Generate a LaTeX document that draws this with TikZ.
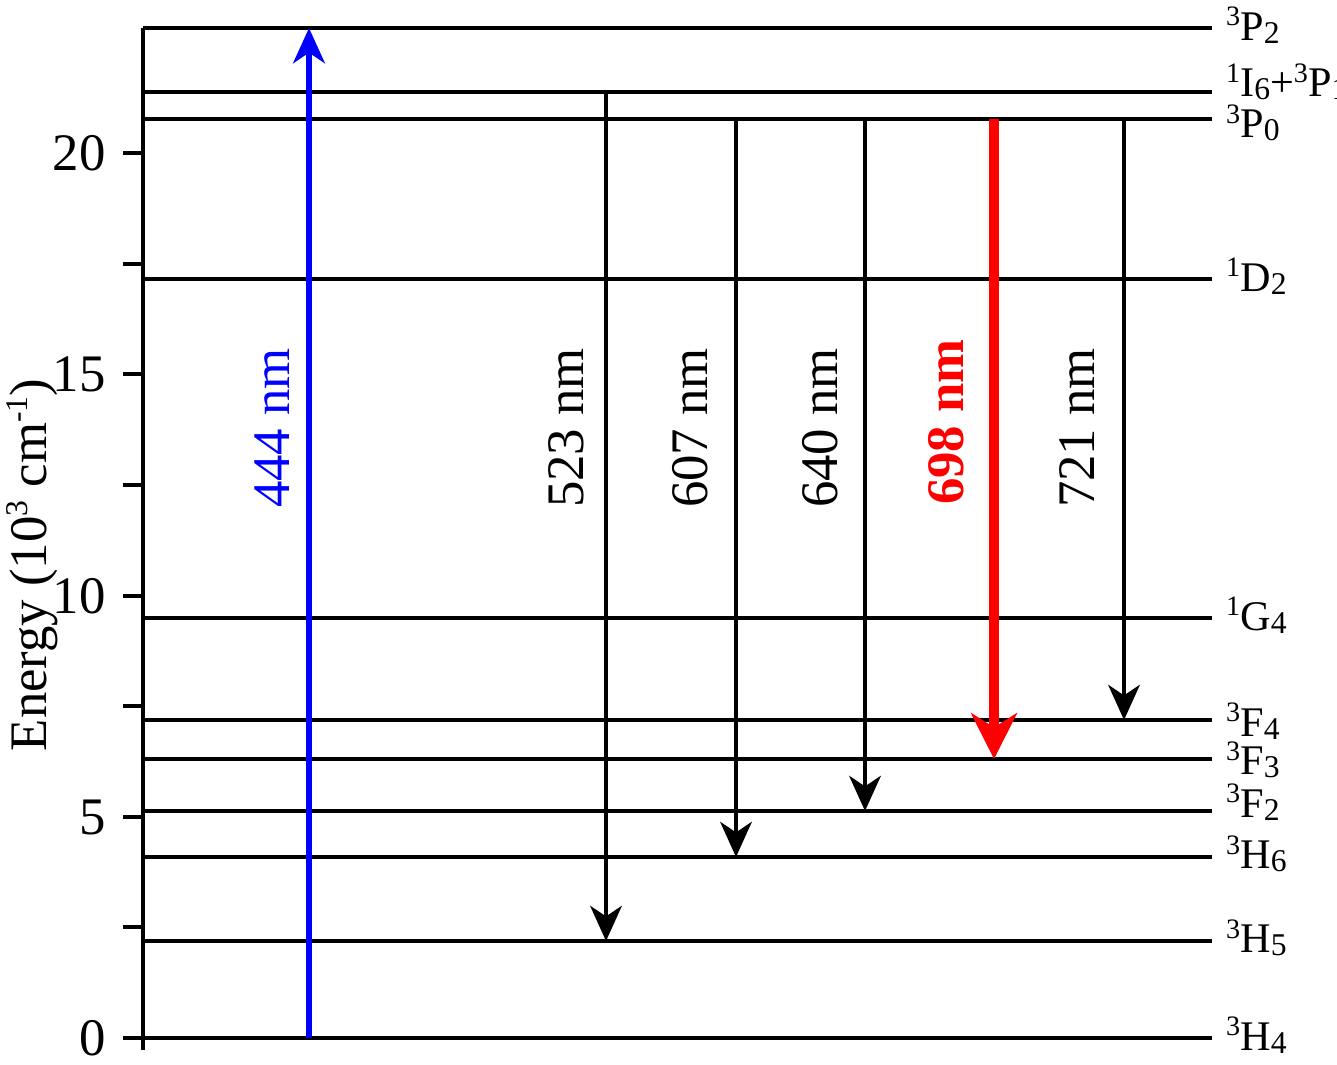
\documentclass[tikz,border=0pt]{standalone}
\usepackage{fontspec}
\setmainfont{Liberation Serif}
\usetikzlibrary{arrows.meta}
\newcommand{\lvl}[3]{\raisebox{0.75ex}{\fontsize{8}{8}\selectfont #1}#2\raisebox{-0.15ex}{\fontsize{9}{9}\selectfont #3}}
\begin{document}
\begin{tikzpicture}[x=0.01cm,y=-0.01cm,
  lev/.style={line width=1.2pt},
  tr/.style={line width=1.1pt,-{Stealth[length=10pt,width=9pt,inset=3pt]}},
  lab/.style={font=\fontsize{12}{14}\selectfont,anchor=west,inner sep=1pt},
  wl/.style={rotate=90,font=\fontsize{15}{16}\selectfont},
  tk/.style={font=\fontsize{15}{16}\selectfont,anchor=east}]
\useasboundingbox (0,0) rectangle (1337,1064);
\draw[lev] (143,28) -- (143,1050);
\foreach \y/\t in {1038/0,817/5,596/10,374/15,153/20}{
  \draw[lev] (123,\y) -- (143,\y);
  \node[tk] (t\t) at (118,\y) {\t};}
\foreach \y in {927,706,485,264}{\draw[lev] (123,\y) -- (143,\y);}
\node[rotate=90,font=\fontsize{15}{16}\selectfont] (ylab) at (32,565) {Energy (10\raisebox{0.8ex}{\fontsize{9}{9}\selectfont 3} cm\raisebox{0.8ex}{\fontsize{9}{9}\selectfont -1})};
\foreach \n/\y/\ly/\t in {a/28/28/{\lvl{3}{P}{2}},b/92/85/{\lvl{1}{I}{6}+\lvl{3}{P}{1}},c/119/126/{\lvl{3}{P}{0}},d/279/279/{\lvl{1}{D}{2}},e/618/618/{\lvl{1}{G}{4}},f/720/724/{\lvl{3}{F}{4}},g/759/763/{\lvl{3}{F}{3}},h/811/805/{\lvl{3}{F}{2}},i/857/857/{\lvl{3}{H}{6}},j/941/941/{\lvl{3}{H}{5}},k/1038/1038/{\lvl{3}{H}{4}}}{
  \coordinate (L\n) at (143,\y);
  \coordinate (R\n) at (1212,\y);
  \draw[lev] (L\n) -- (R\n);
  \node[lab] (n\n) at (1222,\ly-3) {\t};}
\coordinate (b0) at (309,1038); \coordinate (b1) at (309,28);
\draw[tr,blue,line width=1.6pt] (b0) -- (b1);
\node[wl,blue] (w444) at (272,428) {444 nm};
\coordinate (s1) at (606,92); \coordinate (e1) at (606,941);
\draw[tr] (s1) -- (e1); \node[wl] (w523) at (566,428) {523 nm};
\coordinate (s2) at (736,119); \coordinate (e2) at (736,857);
\draw[tr] (s2) -- (e2); \node[wl] (w607) at (690,428) {607 nm};
\coordinate (s3) at (865,119); \coordinate (e3) at (865,811);
\draw[tr] (s3) -- (e3); \node[wl] (w640) at (820,428) {640 nm};
\coordinate (s4) at (994,119); \coordinate (e4) at (994,759);
\draw[red,line width=3pt,-{Stealth[length=13pt,width=13pt,inset=4pt]}] (s4) -- (e4);
\node[wl,red,font=\fontsize{15}{16}\selectfont\bfseries] (w698) at (946,422) {698 nm};
\coordinate (s5) at (1124,119); \coordinate (e5) at (1124,720);
\draw[tr] (s5) -- (e5); \node[wl] (w721) at (1077,428) {721 nm};
\end{tikzpicture}
\end{document}
